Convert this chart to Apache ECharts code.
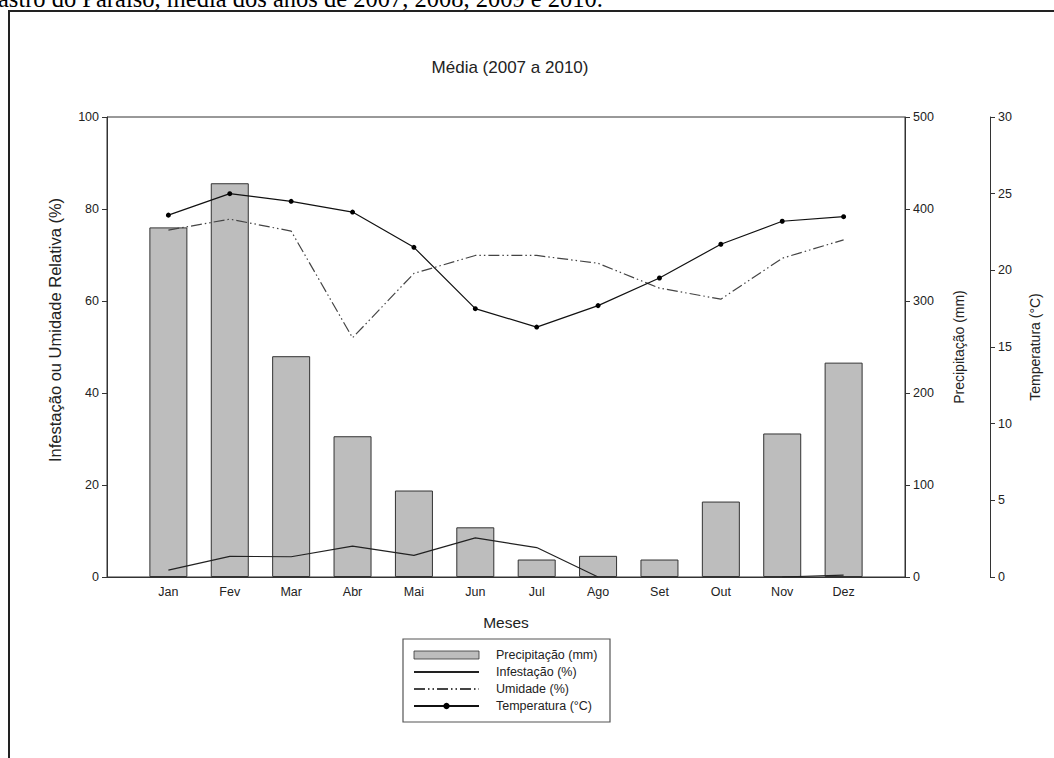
<!DOCTYPE html>
<html>
<head>
<meta charset="utf-8">
<script src="https://cdn.jsdelivr.net/npm/echarts@6/dist/echarts.min.js"></script>
<style>
  html, body { margin: 0; padding: 0; background: #fff; overflow: hidden; }
  #chart { position: absolute; left: 0; top: 0; width: 1054px; height: 758px; }
  #caption {
    position: absolute; left: -2px; top: -14px; white-space: nowrap;
    font-family: 'Liberation Serif', 'DejaVu Serif', serif; font-size: 24.5px; line-height: 25px; color: #000;
  }
</style>
</head>
<body>
<div id="chart"></div>
<div id="caption">astro do Paraíso, média dos anos de 2007, 2008, 2009 e 2010.</div>
<script>
// Monthly averages 2007–2010
const months = ['Jan', 'Fev', 'Mar', 'Abr', 'Mai', 'Jun', 'Jul', 'Ago', 'Set', 'Out', 'Nov', 'Dez'];
const precipitacao = [380, 428, 240, 153, 94, 54, 19, 23, 19, 82, 156, 233];        // mm
const infestacao = [1.5, 4.5, 4.4, 6.7, 4.7, 8.5, 6.4, 0, null, null, 0, 0.4];        // %
const umidade = [75.4, 77.8, 75.2, 52.0, 66.0, 69.9, 69.9, 68.2, 62.8, 60.4, 69.3, 73.3]; // %
const temperatura = [23.6, 25.0, 24.5, 23.8, 21.5, 17.5, 16.3, 17.7, 19.5, 21.7, 23.2, 23.5]; // °C
const leftTicks = { min: 0, max: 100, interval: 20 };
const precTicks = { min: 0, max: 500, interval: 100 };
const tempTicks = { min: 0, max: 30, interval: 5 };

// one empty slot on each side of the year
const cats = [''].concat(months, ['']);
const pad = arr => [null].concat(arr, [null]);

const FONT = 'Liberation Sans, Arial, sans-serif';
const AX = '#333';

const chart = echarts.init(document.getElementById('chart'), null, { renderer: 'svg' });

const yBase = (t, pos, offset, name, gap, size, shift) => ({
  type: 'value', position: pos, offset: offset,
  min: t.min, max: t.max, interval: t.interval,
  name: name, nameLocation: 'middle', nameRotate: 90, nameGap: gap,
  nameTextStyle: { fontFamily: FONT, fontSize: size, color: '#222', padding: shift },
  axisLine: { show: true, lineStyle: { color: AX, width: 1 } },
  axisTick: { show: true, inside: false, length: 5, lineStyle: { color: AX } },
  axisLabel: { fontFamily: FONT, fontSize: 12.5, color: '#222', margin: 8 },
  splitLine: { show: false }
});

chart.setOption({
  animation: false,
  backgroundColor: '#fff',
  title: {
    text: 'Média (2007 a 2010)', left: 505, top: 54, textAlign: 'center',
    textStyle: { fontFamily: FONT, fontSize: 17, fontWeight: 'normal', color: '#222' }
  },
  grid: {
    left: 107, right: 149, top: 117, bottom: 181,
    show: true, borderColor: AX, borderWidth: 1, backgroundColor: 'transparent'
  },
  graphic: [
    { type: 'rect', z: -10, shape: { x: 9, y: 11, width: 1100, height: 800 },
      style: { fill: 'none', stroke: '#222', lineWidth: 2 } },
    { type: 'rect', shape: { x: 403, y: 639, width: 207, height: 83 },
      style: { fill: 'none', stroke: '#555', lineWidth: 1.2 } }
  ],
  legend: {
    orient: 'vertical', left: 413, top: 648, padding: 0,
    itemWidth: 65, itemHeight: 8, itemGap: 3,
    textStyle: { fontFamily: FONT, fontSize: 12.5, color: '#222', lineHeight: 14, padding: [0, 0, 0, 12] },
    data: [
      { name: 'Precipitação (mm)', icon: 'rect', itemStyle: { borderWidth: 0.8, borderColor: '#333' } },
      { name: 'Infestação (%)', itemStyle: { opacity: 0 } },
      { name: 'Umidade (%)', itemStyle: { opacity: 0 } },
      { name: 'Temperatura (°C)' }
    ]
  },
  xAxis: {
    type: 'category', data: cats, boundaryGap: false,
    name: 'Meses', nameLocation: 'middle', nameGap: 37,
    nameTextStyle: { fontFamily: FONT, fontSize: 15.5, color: '#222' },
    axisLine: { lineStyle: { color: AX, width: 1 } },
    axisTick: { show: false },
    axisLabel: { fontFamily: FONT, fontSize: 12.5, color: '#222', margin: 8, interval: 0 },
    splitLine: { show: false }
  },
  yAxis: [
    yBase(leftTicks, 'left', 0, 'Infestação ou Umidade Relativa (%)', 44, 16.5, [0, 0, 0, 34]),
    yBase(precTicks, 'right', 0, 'Precipitação (mm)', 47, 14, 0),
    yBase(tempTicks, 'right', 85, 'Temperatura (°C)', 38, 14, 0)
  ],
  series: [
    {
      name: 'Precipitação (mm)', type: 'bar', yAxisIndex: 1, data: pad(precipitacao),
      barWidth: 38, z: 1,
      itemStyle: { color: '#bdbdbd', borderColor: '#333', borderWidth: 1 }
    },
    {
      name: 'Infestação (%)', type: 'line', yAxisIndex: 0, data: pad(infestacao),
      symbol: 'none', connectNulls: false, z: 3,
      lineStyle: { color: '#222', width: 1.2 }, itemStyle: { color: '#222' }
    },
    {
      name: 'Umidade (%)', type: 'line', yAxisIndex: 0, data: pad(umidade),
      symbol: 'none', z: 3,
      lineStyle: { color: '#444', width: 1.2, type: [11, 3, 1.5, 3, 1.5, 3] }, itemStyle: { color: '#444' }
    },
    {
      name: 'Temperatura (°C)', type: 'line', yAxisIndex: 2, data: pad(temperatura),
      symbol: 'circle', symbolSize: 5, z: 4,
      lineStyle: { color: '#111', width: 1.2 }, itemStyle: { color: '#000' }
    }
  ]
});
</script>
</body>
</html>
